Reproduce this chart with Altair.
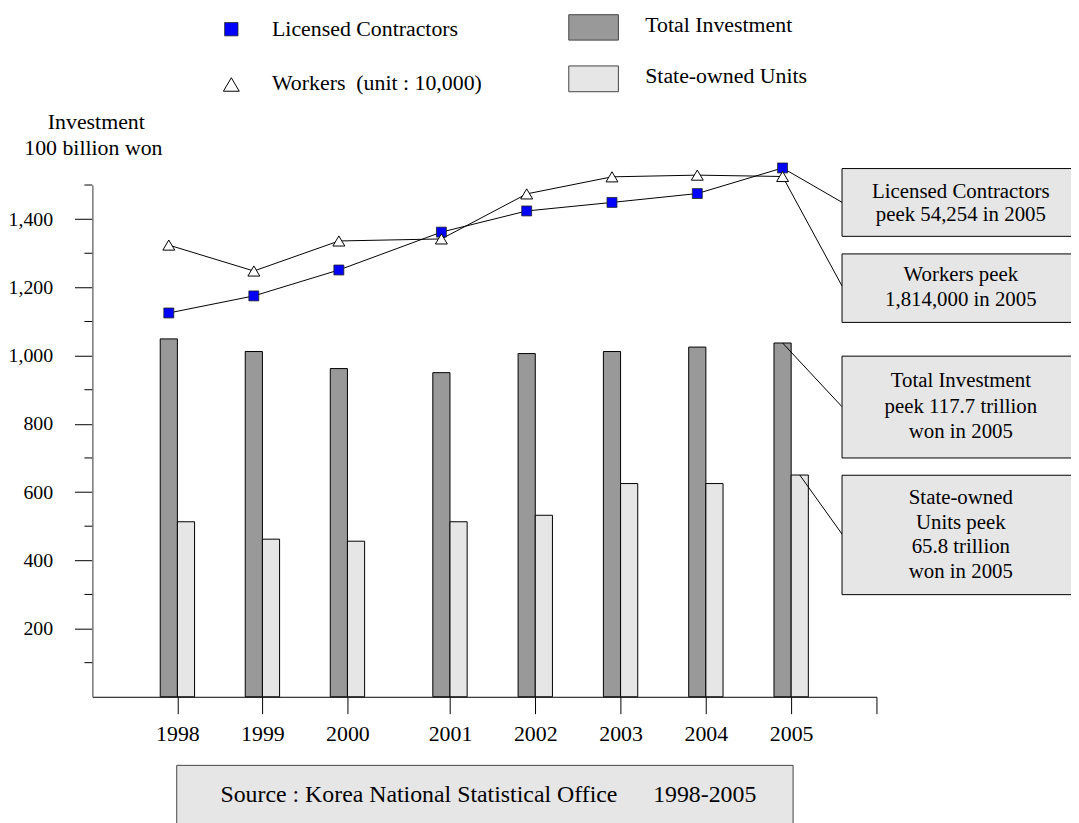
import altair as alt
import pandas as pd

# ---------------- data ----------------
years = [1998, 1999, 2000, 2001, 2002, 2003, 2004, 2005]
total_investment = [1049, 1012, 962, 950, 1006, 1012, 1025, 1037]
state_owned_units = [513, 462, 456, 513, 532, 625, 625, 650]
licensed_contractors = [1125, 1175, 1251, 1362, 1424, 1449, 1475, 1550]
workers = [1324, 1248, 1336, 1342, 1474, 1524, 1529, 1525]

x_tick_values = [1998, 1999, 2000, 2001, 2002, 2003, 2004, 2005, 2006]
y_major_ticks = [200, 400, 600, 800, 1000, 1200, 1400]
y_minor_ticks = [100, 300, 500, 700, 900, 1100, 1300, 1500]

NB = "\u00a0"
legend_labels = ["Licensed Contractors", "Workers" + NB + NB + "(unit : 10,000)",
                 "Total Investment", "State-owned Units"]
y_title_lines = ["Investment", "100 billion won"]
note_texts = [
    ["Licensed Contractors", "peek 54,254 in 2005"],
    ["Workers peek", "1,814,000 in 2005"],
    ["Total Investment", "peek 117.7 trillion", "won in 2005"],
    ["State-owned", "Units peek", "65.8 trillion", "won in 2005"],
]
source_text = "Source : Korea National Statistical Office" + NB * 6 + "1998-2005"

# ---------------- styling / layout ----------------
FONT = "Liberation Serif"
W, H = 790, 515.6
BAR_W = 17.3
HALF = BAR_W / 2
DARK = "#999999"
LIGHT = "#e6e6e6"
TRI = "M-1,0.85L0,-0.85L1,0.85Z"

df = pd.DataFrame({
    "year": years,
    "total": total_investment,
    "state": state_owned_units,
    "lc": licensed_contractors,
    "workers": workers,
})
one = pd.DataFrame({"k": [0]})
minor_df = pd.DataFrame({"v": y_minor_ticks})

x_scale = alt.Scale(domain=[1997, 2000, 2001, 2006], range=[0, 257, 360.3, W],
                    nice=False, zero=False)
y_scale = alt.Scale(domain=[0, 1500], nice=False, zero=True)

x_axis = alt.Axis(values=x_tick_values,
                  labelExpr="datum.value == 2006 ? '' : format(datum.value, 'd')",
                  title=None, grid=False, tickSize=17, tickColor="black",
                  tickWidth=1, domainColor="black", domainWidth=1,
                  labelFont=FONT, labelFontSize=22, labelColor="black",
                  labelPadding=10, labelFlush=False, labelOverlap=False)
y_axis = alt.Axis(values=y_major_ticks,
                  labelExpr="format(datum.value, ',.0f')",
                  title=None, grid=False, tickSize=18,
                  tickColor="black", tickWidth=1,
                  domainColor="#777777", domainWidth=1.5,
                  labelFont=FONT, labelFontSize=20, labelColor="black",
                  labelPadding=22, labelFlush=False, labelOverlap=False)


def X():
    return alt.X("year:Q", scale=x_scale, axis=x_axis)


def Y(field):
    return alt.Y(field, type="quantitative", scale=y_scale, axis=y_axis)


dark_bars = alt.Chart(df).mark_rect(
    fill=DARK, stroke="black", strokeWidth=1, xOffset=-BAR_W, x2Offset=0
).encode(x=X(), x2=alt.X2("year"), y=Y("total"), y2=alt.datum(0))
light_bars = alt.Chart(df).mark_rect(
    fill=LIGHT, stroke="black", strokeWidth=1, xOffset=0, x2Offset=BAR_W
).encode(x=X(), x2=alt.X2("year"), y=Y("state"), y2=alt.datum(0))

minor_ticks = alt.Chart(minor_df).mark_rule(color="black", strokeWidth=1).encode(
    y=Y("v"), x=alt.value(-8), x2=alt.value(0))


def leader(field, offset, x2, y2):
    return alt.Chart(df).transform_filter("datum.year == 2005").mark_rule(
        color="black", strokeWidth=1, xOffset=offset
    ).encode(x=X(), y=Y(field), x2=alt.value(x2), y2=alt.value(y2))


leaders = [
    leader("lc", -HALF, 755.3, 17.4),
    leader("workers", -HALF, 755.3, 101.7),
    leader("total", -HALF, 755.3, 223.4),
    leader("state", HALF, 755.3, 351.7),
]

lc_line = alt.Chart(df).mark_line(color="black", strokeWidth=1, xOffset=-HALF).encode(
    x=X(), y=Y("lc"))
wk_line = alt.Chart(df).mark_line(color="black", strokeWidth=1, xOffset=-HALF).encode(
    x=X(), y=Y("workers"))
lc_pts = alt.Chart(df).mark_point(
    shape="square", filled=True, fill="#0000ff", stroke="#222222", strokeWidth=0.8,
    size=100, opacity=1, xOffset=-HALF
).encode(x=X(), y=Y("lc"))
wk_pts = alt.Chart(df).mark_point(
    shape=TRI, filled=True, fill="white", stroke="black", strokeWidth=1,
    size=144, opacity=1, xOffset=-HALF
).encode(x=X(), y=Y("workers"))


def box(x1, x2, y1, y2, fill, stroke="black"):
    return alt.Chart(one).mark_rect(fill=fill, stroke=stroke, strokeWidth=1).encode(
        x=alt.value(x1), x2=alt.value(x2), y=alt.value(y1), y2=alt.value(y2))


def label(text, x, y, size=22, align="left"):
    return alt.Chart(one).mark_text(
        text=text, font=FONT, fontSize=size, align=align, baseline="middle",
        color="black"
    ).encode(x=alt.value(x), y=alt.value(y))


deco = []
# annotation boxes on the right
note_boxes = [(-16.6, 51.7), (69.4, 138.4), (172.4, 275.0), (292.4, 412.7)]
note_line_y = [[6.7, 30.0], [90.7, 115.7], [197.4, 223.4, 248.4],
               [315.0, 340.7, 365.0, 390.0]]
for (b1, b2), lines, ys in zip(note_boxes, note_texts, note_line_y):
    deco.append(box(755.3, 1010, b1, b2, LIGHT))
    for t, yy in zip(lines, ys):
        deco.append(label(t, 875, yy, size=21, align="center"))

# source box
deco.append(box(85, 706, 584.7, 660, LIGHT, stroke="#444444"))
deco.append(label(source_text, 399, 614.7, size=24, align="center"))

# y-axis title
deco.append(label(y_title_lines[0], 4, -63.3, align="center"))
deco.append(label(y_title_lines[1], 1, -37.3, align="center"))

# legend
deco.append(alt.Chart(one).mark_point(
    shape="square", filled=True, fill="#0000ff", stroke="#222222", strokeWidth=0.8,
    size=180, opacity=1).encode(x=alt.value(140), y=alt.value(-157)))
deco.append(alt.Chart(one).mark_point(
    shape=TRI, filled=True, fill="white", stroke="black", strokeWidth=1,
    size=256, opacity=1).encode(x=alt.value(140), y=alt.value(-101.3)))
deco.append(box(480, 530, -171.6, -146, DARK, stroke="#444444"))
deco.append(box(480, 530, -120, -94, LIGHT, stroke="#444444"))
deco.append(label(legend_labels[0], 181, -157.5))
deco.append(label(legend_labels[1], 181, -102.6))
deco.append(label(legend_labels[2], 557, -161))
deco.append(label(legend_labels[3], 557, -109.3))

chart = alt.layer(
    dark_bars, light_bars, minor_ticks, *leaders, lc_line, wk_line, lc_pts, wk_pts, *deco
).properties(
    width=W, height=H,
    autosize=alt.AutoSizeParams(type="none"),
    padding={"left": 85, "top": 175.3, "right": 196, "bottom": 124},
    background="white",
).configure_view(stroke=None)

chart.save("out.html", embed_options={"renderer": "svg", "actions": False})
